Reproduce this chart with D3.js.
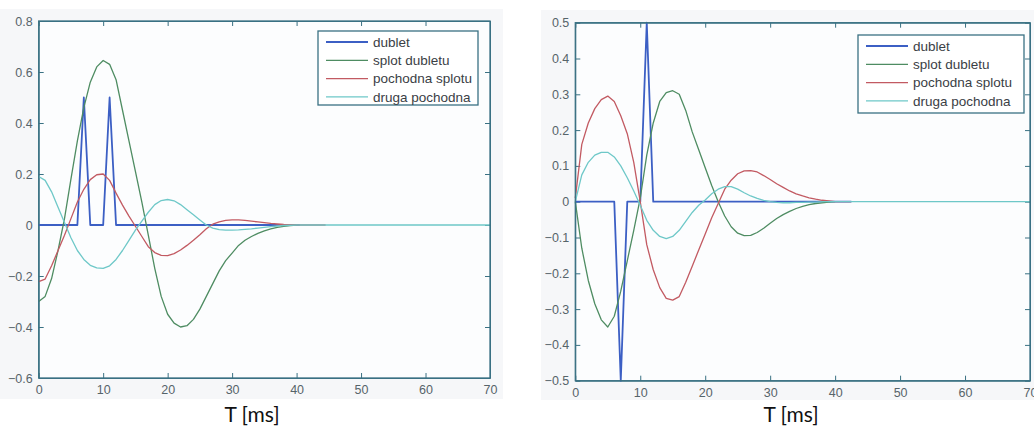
<!DOCTYPE html>
<html>
<head>
<meta charset="utf-8">
<script src="https://cdn.jsdelivr.net/npm/d3@7"></script>
<style>
  body { margin: 0; background: #fff; }
  svg { display: block; }
  .tick text { font-family: "Liberation Sans", Arial, sans-serif; font-size: 12.5px; fill: #56646a; }
  .legend text { font-family: "Liberation Sans", Arial, sans-serif; font-size: 13.5px; fill: #3a4045; }
  .xlabel { font-family: Lato, "Open Sans", sans-serif; font-size: 21px; fill: #111; }
</style>
</head>
<body>
<script>

// series names (legend order = draw order)
const seriesNames = ["dublet", "splot dubletu", "pochodna splotu", "druga pochodna"];
const seriesColors = ["#3c5fc4", "#4e8c62", "#c25a62", "#6ec8c8"];

// sample times, ms
const sampleT = d3.range(0, 41);

// ---- left panel ----
const leftDubletT = [0, 6, 7, 8, 10, 11, 12, 40.5];
const leftDubletV = [0, 0, 0.5, 0, 0, 0.5, 0, 0];
const leftSplot = [-0.30,-0.28,-0.21,-0.10,0.025,0.18,0.33,0.46,0.56,0.62,0.645,0.63,0.57,0.45,0.33,0.21,0.09,-0.04,-0.17,-0.28,-0.35,-0.385,-0.40,-0.395,-0.37,-0.33,-0.28,-0.23,-0.18,-0.14,-0.11,-0.08,-0.06,-0.045,-0.033,-0.023,-0.015,-0.009,-0.005,-0.002,0];
const leftPochodna = [-0.222,-0.212,-0.16,-0.10,-0.04,0.025,0.09,0.14,0.178,0.197,0.20,0.175,0.125,0.078,0.035,-0.005,-0.045,-0.085,-0.108,-0.119,-0.12,-0.112,-0.098,-0.08,-0.06,-0.038,-0.015,0.003,0.012,0.018,0.02,0.02,0.018,0.015,0.012,0.009,0.006,0.004,0.002,0.001,0];
const leftDruga = [0.19,0.175,0.13,0.07,0.01,-0.05,-0.10,-0.135,-0.158,-0.168,-0.17,-0.16,-0.135,-0.10,-0.06,-0.02,0.015,0.05,0.08,0.096,0.10,0.095,0.08,0.06,0.04,0.02,0.0,-0.012,-0.018,-0.02,-0.02,-0.019,-0.017,-0.015,-0.012,-0.009,-0.006,-0.004,-0.002,-0.001,0];
const leftPochodnaEnd = 44.5;
const leftYTicks = [-0.6, -0.4, -0.2, 0, 0.2, 0.4, 0.6, 0.8];

// ---- right panel ----
const rightDubletT = [0, 6, 7, 8, 10, 11, 12, 42.5];
const rightDubletV = [0, 0, -0.5, 0, 0, 0.5, 0, 0];
const rightSplot = [0,-0.13,-0.22,-0.285,-0.33,-0.35,-0.32,-0.25,-0.165,-0.08,0.01,0.13,0.22,0.28,0.305,0.31,0.30,0.255,0.195,0.145,0.095,0.045,0.0,-0.04,-0.07,-0.088,-0.095,-0.094,-0.086,-0.074,-0.06,-0.047,-0.036,-0.027,-0.019,-0.013,-0.008,-0.005,-0.003,-0.001,0];
const rightPochodna = [0.01,0.16,0.22,0.26,0.285,0.295,0.28,0.24,0.19,0.11,0.0,-0.12,-0.19,-0.24,-0.27,-0.275,-0.265,-0.225,-0.18,-0.135,-0.09,-0.045,-0.005,0.035,0.06,0.078,0.086,0.087,0.083,0.073,0.062,0.05,0.04,0.03,0.022,0.016,0.011,0.007,0.004,0.002,0];
const rightDruga = [0,0.075,0.11,0.13,0.138,0.138,0.125,0.10,0.067,0.03,-0.01,-0.052,-0.08,-0.097,-0.103,-0.097,-0.08,-0.055,-0.03,-0.01,0.005,0.022,0.035,0.042,0.042,0.035,0.025,0.016,0.009,0.004,0.0,-0.002,-0.003,-0.003,-0.002,-0.002,-0.001,-0.001,0,0,0];
const rightPochodnaEnd = 42.5;
const rightYTicks = [-0.5, -0.4, -0.3, -0.2, -0.1, 0, 0.1, 0.2, 0.3, 0.4, 0.5];

const xTicks = [0, 10, 20, 30, 40, 50, 60, 70];
const xEnd = 70;
const xLabel = "T [ms]";

var width = 1034, height = 428;
var axisColor = "#3a7183";

var svg = d3.select("body").append("svg")
    .attr("width", width)
    .attr("height", height);

// zip times and values into points
var zip = (ts, vs) => ts.map((t, i) => [t, vs[i]]);

var panels = [
  {
    bg: [0, 9, 503, 390],
    box: [38.7, 21, 490, 378],
    labelX: 252,
    yDomain: [-0.6, 0.8], yTicks: leftYTicks,
    legend: [318, 31, 160, 74],
    series: [
      zip(leftDubletT, leftDubletV),
      zip(sampleT, leftSplot),
      zip(sampleT, leftPochodna).concat([[leftPochodnaEnd, 0]]),
      zip(sampleT, leftDruga).concat([[xEnd, 0]])
    ]
  },
  {
    bg: [541, 10, 493, 390],
    box: [575.3, 22.7, 1030, 380.7],
    labelX: 791,
    yDomain: [-0.5, 0.5], yTicks: rightYTicks,
    legend: [858, 35, 166, 78],
    series: [
      zip(rightDubletT, rightDubletV),
      zip(sampleT, rightSplot),
      zip(sampleT, rightPochodna).concat([[rightPochodnaEnd, 0]]),
      zip(sampleT, rightDruga).concat([[xEnd, 0]])
    ]
  }
];

panels.forEach(function(p) {
    var [x0, y0, x1, y1] = p.box;

    svg.append("rect")
        .attr("x", p.bg[0]).attr("y", p.bg[1])
        .attr("width", p.bg[2]).attr("height", p.bg[3])
        .attr("fill", "#f6f7f9");

    svg.append("rect")
        .attr("x", x0).attr("y", y0)
        .attr("width", x1 - x0).attr("height", y1 - y0)
        .attr("fill", "#fcfdfe");

    var x = d3.scaleLinear().domain([0, xEnd]).range([x0, x1]);
    var y = d3.scaleLinear().domain(p.yDomain).range([y1, y0]);

    var fmt = d => d3.format("")(+d.toFixed(1));

    // bottom axis with labels, inward ticks on all four sides
    svg.append("g")
        .attr("transform", `translate(0,${y1})`)
        .call(d3.axisBottom(x).tickValues(xTicks).tickFormat(fmt).tickSizeInner(-5).tickSizeOuter(0).tickPadding(7));
    svg.append("g")
        .attr("transform", `translate(0,${y0})`)
        .call(d3.axisTop(x).tickValues(xTicks).tickFormat("").tickSizeInner(-5).tickSizeOuter(0));
    svg.append("g")
        .attr("transform", `translate(${x0},0)`)
        .call(d3.axisLeft(y).tickValues(p.yTicks).tickFormat(fmt).tickSizeInner(-5).tickSizeOuter(0).tickPadding(6));
    svg.append("g")
        .attr("transform", `translate(${x1},0)`)
        .call(d3.axisRight(y).tickValues(p.yTicks).tickFormat("").tickSizeInner(-5).tickSizeOuter(0));

    svg.selectAll(".domain").attr("stroke", axisColor);
    svg.selectAll(".tick line").attr("stroke", axisColor);

    // plot lines
    var line = d3.line().x(d => x(d[0])).y(d => y(d[1]));
    p.series.forEach(function(pts, i) {
        svg.append("path")
            .attr("d", line(pts))
            .attr("fill", "none")
            .attr("stroke", seriesColors[i])
            .attr("stroke-width", i == 0 ? 1.8 : 1.3)
            .attr("stroke-linejoin", "round");
    });

    // box on top
    svg.append("rect")
        .attr("x", x0).attr("y", y0)
        .attr("width", x1 - x0).attr("height", y1 - y0)
        .attr("fill", "none")
        .attr("stroke", axisColor)
        .attr("stroke-width", 1.3);

    // legend
    var [lx, ly, lw, lh] = p.legend;
    var lg = svg.append("g").attr("class", "legend");
    lg.append("rect")
        .attr("x", lx).attr("y", ly).attr("width", lw).attr("height", lh)
        .attr("fill", "#fff")
        .attr("stroke", axisColor)
        .attr("stroke-width", 1.3);
    seriesNames.forEach(function(name, i) {
        var cy = ly + 11 + i * 18.3;
        lg.append("line")
            .attr("x1", lx + 8).attr("x2", lx + 50)
            .attr("y1", cy).attr("y2", cy)
            .attr("stroke", seriesColors[i])
            .attr("stroke-width", i == 0 ? 1.8 : 1.3);
        lg.append("text")
            .attr("x", lx + 55).attr("y", cy)
            .attr("dy", "0.35em")
            .text(name);
    });

    svg.append("text")
        .attr("class", "xlabel")
        .attr("x", p.labelX)
        .attr("y", 422)
        .attr("text-anchor", "middle")
        .text(xLabel);
});

</script>
</body>
</html>
